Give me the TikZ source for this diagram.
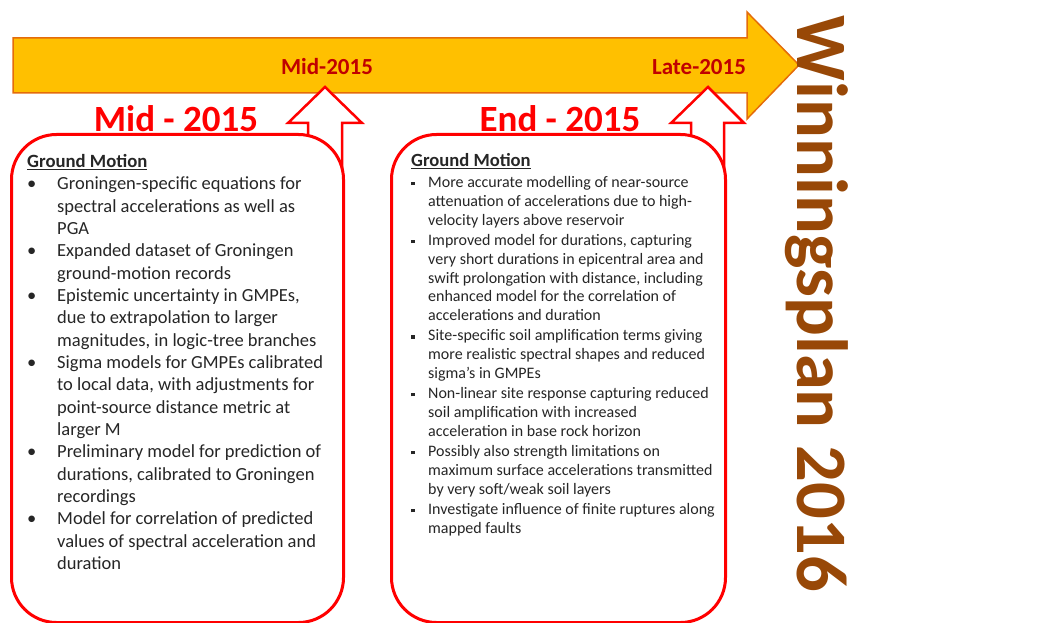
\documentclass[tikz,border=0pt]{standalone}
\usepackage{fontspec}
\setmainfont{Carlito}
\definecolor{gold}{HTML}{FFC000}
\definecolor{orangeline}{HTML}{E46C0A}
\definecolor{darkred}{HTML}{C00000}
\definecolor{brownw}{HTML}{984807}
\definecolor{bodytext}{HTML}{262626}
\newcommand{\bA}{\makebox[30pt][l]{\hspace{0pt}\textbullet}}
\newcommand{\iA}{\hspace*{30pt}}
\newcommand{\bB}{\makebox[17pt][l]{\hspace{0pt}\raisebox{2.4pt}{\rule{3.4pt}{3.4pt}}}}
\newcommand{\iB}{\hspace*{17pt}}
\tikzset{
  timeline/.style={fill=gold, draw=orangeline, line width=1.5pt, line join=miter},
  uparrow/.style={fill=white, draw=red, line width=2.5pt, line join=miter},
  phasebox/.style={draw=red, line width=3pt, fill=white, rounded corners=45pt, anchor=north west, inner sep=0pt},
  barlabel/.style={text=darkred, font=\fontsize{23}{26}\selectfont\bfseries},
  phasetitle/.style={text=red, font=\fontsize{37}{40}\selectfont\bfseries},
  bodyA/.style={anchor=north west, inner sep=0pt, align=left, text=bodytext, font=\fontsize{18.5}{22.35}\selectfont},
  bodyB/.style={anchor=north west, inner sep=0pt, align=left, text=bodytext, font=\fontsize{16}{18.8}\selectfont},
}
\begin{document}
\begin{tikzpicture}[x=1pt,y=-1pt]
\useasboundingbox (0,0) rectangle (1052,623);
% timeline arrow
\draw[timeline] (13,38) -- (747,38) -- (747,12) -- (799,65) -- (747,119) -- (747,93) -- (13,93) -- cycle;
\node[barlabel] (lmid) at (327,67) {Mid-2015};
\node[barlabel] (llate) at (699,67) {Late-2015};
% up arrows
\draw[uparrow] (325,87) -- (362,123) -- (342,123) -- (342,300) -- (308,300) -- (308,123) -- (288,123) -- cycle;
\draw[uparrow] (708,87) -- (744,123) -- (724,123) -- (724,300) -- (691,300) -- (691,123) -- (671,123) -- cycle;
% boxes
\node[phasebox, minimum width=332pt, minimum height=488pt] (b1) at (10,133) {};
\node[phasebox, minimum width=334pt, minimum height=488pt] (b2) at (390,133) {};
% titles
\node[phasetitle] (t1) at (176,119) {Mid - 2015};
\node[phasetitle] (t2) at (560,119) {End - 2015};
% vertical label
\node[rotate=-90, text=brownw, font=\fontsize{72.5}{80}\selectfont\bfseries] (wp) at (817,304) {Winningsplan 2016};
% box 1 text
\node[bodyA] (x1) at (27,154) {%
{\fontsize{18.7}{22.35}\selectfont\bfseries\underline{Ground Motion}}\\
\bA Groningen-specific equations for\\
\iA spectral accelerations as well as\\
\iA PGA\\
\bA Expanded dataset of Groningen\\
\iA ground-motion records\\
\bA Epistemic uncertainty in GMPEs,\\
\iA due to extrapolation to larger\\
\iA magnitudes, in logic-tree branches\\
\bA Sigma models for GMPEs calibrated\\
\iA to local data, with adjustments for\\
\iA point-source distance metric at\\
\iA larger M\\
\bA Preliminary model for prediction of\\
\iA durations, calibrated to Groningen\\
\iA recordings\\
\bA Model for correlation of predicted\\
\iA values of spectral acceleration and\\
\iA duration};
% box 2 text
\node[bodyB] (x2) at (411,153) {%
{\fontsize{18.6}{20}\selectfont\bfseries\underline{Ground Motion}}\\[2.5pt]
\bB More accurate modelling of near-source\\
\iB attenuation of accelerations due to high-\\
\iB velocity layers above reservoir\\[1.5pt]
\bB Improved model for durations, capturing\\
\iB very short durations in epicentral area and\\
\iB swift prolongation with distance, including\\
\iB enhanced model for the correlation of\\
\iB accelerations and duration\\[1.5pt]
\bB Site-specific soil amplification terms giving\\
\iB more realistic spectral shapes and reduced\\
\iB sigma's in GMPEs\\[1.5pt]
\bB Non-linear site response capturing reduced\\
\iB soil amplification with increased\\
\iB acceleration in base rock horizon\\[1.5pt]
\bB Possibly also strength limitations on\\
\iB maximum surface accelerations transmitted\\
\iB by very soft/weak soil layers\\[1.5pt]
\bB Investigate influence of finite ruptures along\\
\iB mapped faults};
\end{tikzpicture}
\end{document}
